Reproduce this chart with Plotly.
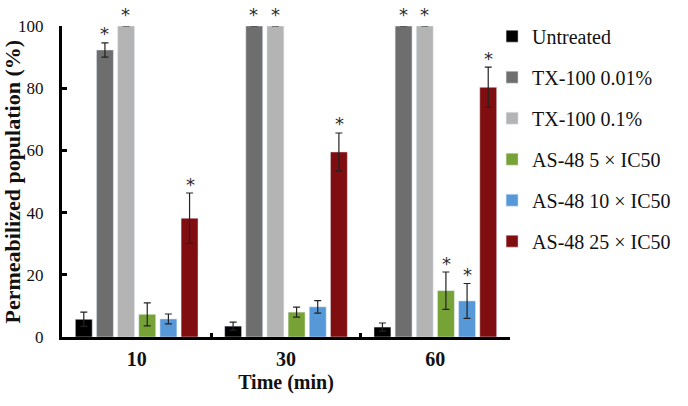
import plotly.graph_objects as go

# --- Data ---
times = ['10', '30', '60']
series = ['Untreated', 'TX-100 0.01%', 'TX-100 0.1%',
          'AS-48 5 × IC50', 'AS-48 10 × IC50', 'AS-48 25 × IC50']
untreated = [5.7, 3.5, 3.2]
tx_001 = [92.3, 100, 100]
tx_01 = [100, 100, 100]
as_5 = [7.3, 8.0, 14.9]
as_10 = [5.8, 9.7, 11.6]
as_25 = [38.2, 59.5, 80.3]
untreated_err = [2.3, 1.3, 1.3]
tx_001_err = [2.3, 0, 0]
tx_01_err = [0, 0, 0]
as_5_err = [3.7, 1.6, 6.0]
as_10_err = [1.6, 2.0, 5.6]
as_25_err = [8.1, 6.1, 6.5]
# significance marks (*) per series and time point
untreated_sig = [False, False, False]
tx_001_sig = [True, True, True]
tx_01_sig = [True, True, True]
as_5_sig = [False, False, True]
as_10_sig = [False, False, True]
as_25_sig = [True, True, True]

values = [untreated, tx_001, tx_01, as_5, as_10, as_25]
errors = [untreated_err, tx_001_err, tx_01_err, as_5_err, as_10_err, as_25_err]
sigs = [untreated_sig, tx_001_sig, tx_01_sig, as_5_sig, as_10_sig, as_25_sig]
colors = ['#000000', '#6e6e6e', '#b4b4b4', '#77a236', '#5799d8', '#800e10']

SERIF = 'Liberation Serif'
W, H = 688, 406
ML, MR, MT, MB = 62, 173, 26, 69
BARGAP = 0.15

fig = go.Figure()
for i, name in enumerate(series):
    fig.add_trace(go.Bar(
        x=times, y=values[i], name=name, marker_color=colors[i],
        legendgroup=str(i),
        error_y=dict(type='data', array=errors[i], color='#222222',
                     thickness=1.2, width=3.5),
    ))

# asterisks above the significant bars, shifted to each bar's slot
# (category axis: annotation x is the category's serial number)
cat_px = (W - ML - MR) / len(times)
slot_px = cat_px * (1 - BARGAP) / len(series)
for i in range(len(series)):
    for k, (v, e, s) in enumerate(zip(values[i], errors[i], sigs[i])):
        if not s:
            continue
        fig.add_annotation(
            x=k, y=v + e, xref='x', yref='y', text='*', showarrow=False,
            xshift=(i - (len(series) - 1) / 2) * slot_px,
            yanchor='middle', yshift=9 if e > 0 else 12,
            font=dict(family='DejaVu Sans', size=18, color='#2a2a2a'),
        )

# y title as an annotation so it can sit close to the tick labels
fig.add_annotation(
    x=0, y=0.5, xref='paper', yref='paper', xanchor='center',
    xshift=-50, textangle=-90, showarrow=False,
    text='<b>Permeabilized population (%)</b>',
    font=dict(family=SERIF, size=22, color='#111111'),
)

fig.update_layout(
    width=W, height=H,
    margin=dict(l=ML, r=MR, t=MT, b=MB),
    paper_bgcolor='white', plot_bgcolor='white',
    barmode='group', bargap=BARGAP, bargroupgap=0.2,
    font=dict(family=SERIF, size=17, color='#111111'),
    legend=dict(x=0.96, y=1.03, xanchor='left', yanchor='top',
                bgcolor='rgba(0,0,0,0)', itemwidth=30, maxheight=380,
                tracegroupgap=12, font=dict(family=SERIF, size=20)),
    showlegend=True,
)
fig.update_yaxes(
    range=[0, 100], dtick=20, showgrid=False, zeroline=False,
    showline=True, linecolor='black', linewidth=3,
    ticks='inside', ticklen=5, tickwidth=3, tickcolor='black',
    ticklabelstandoff=12,
    tickfont=dict(family=SERIF, size=17),
)
fig.update_xaxes(
    type='category',
    showgrid=False, showline=True, linecolor='black', linewidth=3,
    ticks='inside', tickson='boundaries', ticklen=4, tickwidth=3,
    tickcolor='black', ticklabelstandoff=2,
    tickfont=dict(family=SERIF, size=20, weight='bold'),
    title=dict(text='<b>Time (min)</b>', font=dict(family=SERIF, size=20),
               standoff=6),
)

# the page's default body margin would push the figure 8px down/right
fig.write_html('out.html', config={'displayModeBar': False},
               post_script="document.body.style.margin='0px';")
